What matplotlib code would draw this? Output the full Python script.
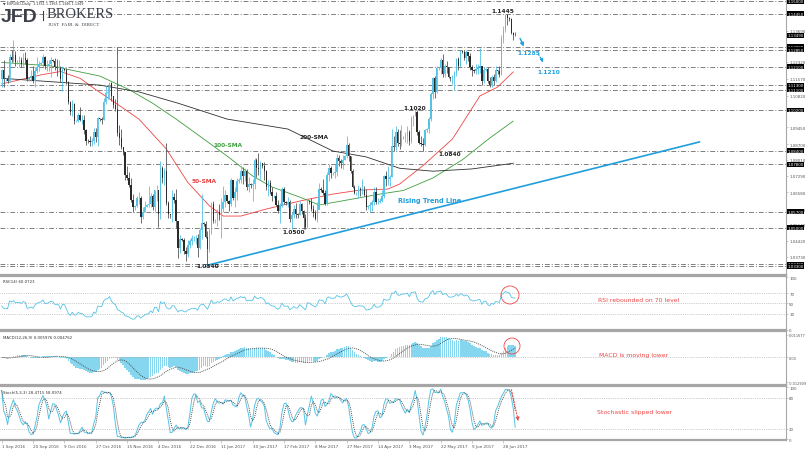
import matplotlib
matplotlib.use('Agg')
import matplotlib.pyplot as plt
from matplotlib.patches import Ellipse
from matplotlib.lines import Line2D
import numpy as np
import pandas as pd

# EURUSD daily bars (Sun-Fri sessions), 1 Sep 2016 .. 5 Jul 2017
first_open = 1.1157
close = [
    # Sep 2016
    1.1195, 1.1155, 1.1158, 1.1150, 1.1255, 1.1240, 1.1262, 1.1232, 1.1235, 1.1240, 1.1225, 1.1250, 1.1240,
    1.1155, 1.1160, 1.1170, 1.1150, 1.1190, 1.1210, 1.1225, 1.1228, 1.1255, 1.1215, 1.1215, 1.1225, 1.1240,
    # Oct
    1.1238, 1.1210, 1.1205, 1.1205, 1.1155, 1.1200, 1.1198, 1.1145, 1.1055, 1.1010, 1.1045, 1.0970, 1.0972,
    1.1000, 1.0975, 1.0975, 1.0930, 1.0885, 1.0882, 1.0880, 1.0885, 1.0925, 1.0900, 1.0985, 1.0980, 1.0975,
    # Nov
    1.1055, 1.1095, 1.1100, 1.1140, 1.1080, 1.1040, 1.1025, 1.0920, 1.0895, 1.0855, 1.0835, 1.0735, 1.0720,
    1.0690, 1.0625, 1.0590, 1.0595, 1.0630, 1.0630, 1.0550, 1.0570, 1.0590, 1.0600, 1.0605, 1.0640, 1.0590,
    # Dec
    1.0665, 1.0665, 1.0560, 1.0765, 1.0720, 1.0750, 1.0610, 1.0560, 1.0555, 1.0635, 1.0625, 1.0530, 1.0410,
    1.0450, 1.0445, 1.0400, 1.0385, 1.0425, 1.0440, 1.0455, 1.0455, 1.0455, 1.0410, 1.0490, 1.0520,
    # Jan 2017
    1.0515, 1.0460, 1.0405, 1.0490, 1.0605, 1.0530, 1.0535, 1.0570, 1.0555, 1.0585, 1.0615, 1.0645, 1.0620,
    1.0605, 1.0710, 1.0630, 1.0660, 1.0705, 1.0710, 1.0750, 1.0730, 1.0750, 1.0680, 1.0695, 1.0690, 1.0695, 1.0800,
    # Feb
    1.0765, 1.0760, 1.0785, 1.0775, 1.0750, 1.0680, 1.0700, 1.0660, 1.0640, 1.0640, 1.0600, 1.0575,
    1.0600, 1.0670, 1.0615, 1.0610, 1.0615, 1.0540, 1.0555, 1.0585, 1.0560, 1.0555, 1.0605, 1.0575,
    # Mar
    1.0545, 1.0505, 1.0620, 1.0615, 1.0585, 1.0565, 1.0540, 1.0580, 1.0670, 1.0665, 1.0655, 1.0605, 1.0735,
    1.0765, 1.0740, 1.0740, 1.0745, 1.0810, 1.0795, 1.0785, 1.0800, 1.0815, 1.0865, 1.0815, 1.0750, 1.0680, 1.0655,
    # Apr
    1.0655, 1.0670, 1.0665, 1.0665, 1.0645, 1.0590, 1.0595, 1.0600, 1.0615, 1.0660, 1.0615, 1.0615, 1.0620,
    1.0640, 1.0730, 1.0715, 1.0715, 1.0725, 1.0860, 1.0855, 1.0925, 1.0875, 1.0870, 1.0895, 1.0900,
    # May
    1.0905, 1.0925, 1.0885, 1.0985, 1.0995, 1.1010, 1.0925, 1.0875, 1.0870, 1.0865, 1.0930, 1.0935, 1.0980,
    1.1090, 1.1160, 1.1100, 1.1205, 1.1205, 1.1240, 1.1180, 1.1215, 1.1210, 1.1165, 1.1160, 1.1165, 1.1185, 1.1245,
    # Jun
    1.1215, 1.1280, 1.1275, 1.1250, 1.1275, 1.1260, 1.1210, 1.1195, 1.1190, 1.1200, 1.1210, 1.1215, 1.1150,
    1.1195, 1.1200, 1.1150, 1.1130, 1.1165, 1.1150, 1.1195, 1.1190, 1.1180, 1.1335, 1.1375, 1.1440, 1.1425,
    # Jul
    1.1420, 1.1360, 1.1350, 1.1349,
]
high = [
    1.1200, 1.1240, 1.1163, 1.1175, 1.1265, 1.1285, 1.1327, 1.1280, 1.1240, 1.1260, 1.1255, 1.1270, 1.1275,
    1.1250, 1.1165, 1.1195, 1.1215, 1.1210, 1.1255, 1.1235, 1.1233, 1.1265, 1.1260, 1.1240, 1.1240, 1.1255,
    1.1245, 1.1250, 1.1245, 1.1240, 1.1215, 1.1215, 1.1205, 1.1205, 1.1150, 1.1060, 1.1065, 1.1050, 1.0978,
    1.1005, 1.1035, 1.1000, 1.1000, 1.0935, 1.0890, 1.0905, 1.0895, 1.0940, 1.0940, 1.0990, 1.0985, 1.0990,
    1.1075, 1.1125, 1.1125, 1.1145, 1.1142, 1.1080, 1.1070, 1.1300, 1.0955, 1.0935, 1.0855, 1.0835, 1.0775,
    1.0745, 1.0720, 1.0650, 1.0600, 1.0640, 1.0660, 1.0640, 1.0590, 1.0620, 1.0605, 1.0685, 1.0655, 1.0650,
    1.0665, 1.0690, 1.0665, 1.0795, 1.0775, 1.0765, 1.0875, 1.0620, 1.0560, 1.0665, 1.0655, 1.0670, 1.0530,
    1.0470, 1.0455, 1.0455, 1.0415, 1.0445, 1.0450, 1.0470, 1.0465, 1.0470, 1.0475, 1.0500, 1.0650,
    1.0525, 1.0530, 1.0485, 1.0500, 1.0615, 1.0620, 1.0540, 1.0585, 1.0605, 1.0630, 1.0685, 1.0665, 1.0645,
    1.0625, 1.0720, 1.0710, 1.0680, 1.0720, 1.0720, 1.0775, 1.0770, 1.0765, 1.0760, 1.0725, 1.0700, 1.0715, 1.0810,
    1.0810, 1.0830, 1.0795, 1.0785, 1.0790, 1.0755, 1.0710, 1.0710, 1.0680, 1.0645, 1.0660, 1.0625,
    1.0610, 1.0680, 1.0680, 1.0620, 1.0635, 1.0625, 1.0570, 1.0600, 1.0610, 1.0565, 1.0620, 1.0610,
    1.0580, 1.0560, 1.0630, 1.0625, 1.0630, 1.0600, 1.0580, 1.0615, 1.0700, 1.0680, 1.0715, 1.0665, 1.0745,
    1.0780, 1.0775, 1.0745, 1.0780, 1.0825, 1.0820, 1.0805, 1.0820, 1.0820, 1.0905, 1.0875, 1.0815, 1.0760, 1.0690,
    1.0660, 1.0690, 1.0680, 1.0715, 1.0685, 1.0670, 1.0600, 1.0615, 1.0625, 1.0680, 1.0680, 1.0630, 1.0630,
    1.0665, 1.0735, 1.0750, 1.0775, 1.0735, 1.0935, 1.0905, 1.0950, 1.0935, 1.0930, 1.0955, 1.0905,
    1.0925, 1.0950, 1.0930, 1.0995, 1.1000, 1.1023, 1.1020, 1.0930, 1.0905, 1.0895, 1.0935, 1.0940, 1.0990,
    1.1100, 1.1165, 1.1170, 1.1215, 1.1210, 1.1250, 1.1268, 1.1225, 1.1235, 1.1210, 1.1165, 1.1175, 1.1190, 1.1250,
    1.1255, 1.1285, 1.1285, 1.1285, 1.1285, 1.1270, 1.1270, 1.1220, 1.1200, 1.1225, 1.1225, 1.1295, 1.1215,
    1.1210, 1.1205, 1.1210, 1.1165, 1.1175, 1.1180, 1.1215, 1.1195, 1.1215, 1.1350, 1.1390, 1.1445, 1.1445,
    1.1430, 1.1425, 1.1365, 1.1365,
]
low = [
    1.1123, 1.1120, 1.1150, 1.1140, 1.1145, 1.1230, 1.1230, 1.1215, 1.1225, 1.1210, 1.1210, 1.1215, 1.1225,
    1.1150, 1.1150, 1.1150, 1.1140, 1.1120, 1.1185, 1.1190, 1.1220, 1.1210, 1.1200, 1.1190, 1.1190, 1.1165,
    1.1230, 1.1195, 1.1170, 1.1190, 1.1145, 1.1105, 1.1190, 1.1135, 1.1045, 1.1000, 1.0995, 1.0960, 1.0965,
    1.0965, 1.0970, 1.0960, 1.0915, 1.0865, 1.0875, 1.0860, 1.0860, 1.0870, 1.0880, 1.0860, 1.0970, 1.0960,
    1.0975, 1.1045, 1.1070, 1.1070, 1.1060, 1.1030, 1.1015, 1.0905, 1.0865, 1.0850, 1.0820, 1.0710, 1.0710,
    1.0680, 1.0615, 1.0570, 1.0580, 1.0590, 1.0605, 1.0520, 1.0540, 1.0570, 1.0590, 1.0590, 1.0590, 1.0580,
    1.0570, 1.0620, 1.0505, 1.0540, 1.0700, 1.0690, 1.0600, 1.0545, 1.0545, 1.0525, 1.0610, 1.0500, 1.0365,
    1.0390, 1.0440, 1.0385, 1.0352, 1.0370, 1.0410, 1.0425, 1.0440, 1.0430, 1.0370, 1.0405, 1.0450,
    1.0510, 1.0455, 1.0340, 1.0395, 1.0475, 1.0520, 1.0520, 1.0510, 1.0535, 1.0455, 1.0570, 1.0590, 1.0610,
    1.0575, 1.0595, 1.0625, 1.0590, 1.0625, 1.0700, 1.0700, 1.0695, 1.0705, 1.0665, 1.0660, 1.0675, 1.0620, 1.0670,
    1.0725, 1.0735, 1.0715, 1.0765, 1.0710, 1.0665, 1.0640, 1.0650, 1.0620, 1.0630, 1.0595, 1.0565,
    1.0520, 1.0590, 1.0605, 1.0600, 1.0590, 1.0525, 1.0494, 1.0545, 1.0545, 1.0545, 1.0555, 1.0560,
    1.0495, 1.0495, 1.0500, 1.0605, 1.0575, 1.0550, 1.0535, 1.0525, 1.0585, 1.0660, 1.0645, 1.0600, 1.0600,
    1.0705, 1.0720, 1.0735, 1.0720, 1.0730, 1.0775, 1.0765, 1.0760, 1.0800, 1.0810, 1.0795, 1.0740, 1.0675, 1.0650,
    1.0645, 1.0630, 1.0640, 1.0650, 1.0640, 1.0580, 1.0585, 1.0570, 1.0575, 1.0600, 1.0605, 1.0605, 1.0610,
    1.0615, 1.0630, 1.0685, 1.0690, 1.0685, 1.0725, 1.0840, 1.0845, 1.0860, 1.0850, 1.0860, 1.0890,
    1.0880, 1.0875, 1.0865, 1.0875, 1.0950, 1.0995, 1.0910, 1.0870, 1.0860, 1.0838, 1.0860, 1.0925, 1.0920,
    1.0970, 1.1070, 1.1075, 1.1095, 1.1195, 1.1180, 1.1165, 1.1165, 1.1185, 1.1160, 1.1150, 1.1135, 1.1110, 1.1170,
    1.1195, 1.1210, 1.1270, 1.1240, 1.1225, 1.1235, 1.1195, 1.1170, 1.1185, 1.1180, 1.1180, 1.1185, 1.1130,
    1.1140, 1.1190, 1.1140, 1.1120, 1.1120, 1.1130, 1.1145, 1.1180, 1.1165, 1.1175, 1.1315, 1.1365, 1.1395,
    1.1415, 1.1355, 1.1330, 1.1346,
]

# moving averages (bar index, price)
sma50_idx = [0, 20, 30, 40, 48, 60, 70, 84, 95, 106, 113, 122, 135, 152, 169, 183, 197, 203, 215, 230, 244, 253, 261]
sma50_val = [1.1135, 1.1175, 1.1190, 1.1160, 1.1110, 1.1040, 1.0980, 1.0848, 1.0700, 1.0597, 1.0552, 1.0552,
             1.0583, 1.0618, 1.0649, 1.0667, 1.0671, 1.0693, 1.0775, 1.0892, 1.1082, 1.1121, 1.1188]
sma100_idx = [0, 25, 50, 65, 77, 89, 101, 115, 128, 138, 152, 162, 179, 193, 205, 220, 235, 249, 261]
sma100_val = [1.1230, 1.1215, 1.1170, 1.1110, 1.1050, 1.0980, 1.0905, 1.0817, 1.0729, 1.0680, 1.0636, 1.0601,
              1.0627, 1.0649, 1.0665, 1.0720, 1.0800, 1.0896, 1.0971]
sma200_idx = [0, 50, 70, 90, 115, 146, 169, 186, 203, 220, 240, 261]
sma200_val = [1.1160, 1.1130, 1.1100, 1.1050, 1.0980, 1.0936, 1.0839, 1.0813, 1.0763, 1.0750, 1.0760, 1.0785]

# rising trend line end points (bar index, price)
trend_idx = [105, 356]
trend_val = [1.0335, 1.0879]

levels = [1.1500, 1.1445, 1.1300, 1.1285, 1.1210, 1.1130, 1.1110, 1.1020, 1.0840, 1.0780, 1.0570, 1.0500,
          1.0340, 1.0330]
price_ticks = [1.0373, 1.0442, 1.0514, 1.0583, 1.0658, 1.0729, 1.0801, 1.0870, 1.0945, 1.1082, 1.1157, 1.1232,
               1.1369]
last_price = 1.1349

date_labels = ['1 Sep 2016', '20 Sep 2016', '9 Oct 2016', '27 Oct 2016', '15 Nov 2016', '4 Dec 2016',
               '22 Dec 2016', '11 Jan 2017', '30 Jan 2017', '17 Feb 2017', '8 Mar 2017', '27 Mar 2017',
               '14 Apr 2017', '3 May 2017', '22 May 2017', '9 Jun 2017', '28 Jun 2017']
date_pos = [16 * k for k in range(len(date_labels))]

# indicators from the bars
c = pd.Series(close)
h = pd.Series(high)
l = pd.Series(low)
o = pd.Series([first_open] + close[:-1])

# RSI(14), Wilder smoothing, seeded with the first 14 changes
d = c.diff().fillna(0).values
gain = np.clip(d, 0, None)
loss = np.clip(-d, 0, None)
ag, al = gain[1:15].mean(), loss[1:15].mean()
rsi = []
for i in range(len(d)):
    if i > 0:
        ag = (ag * 13 + gain[i]) / 14
        al = (al * 13 + loss[i]) / 14
    rsi.append(100 - 100 / (1 + ag / al))

macd = c.ewm(span=12, adjust=False).mean() - c.ewm(span=26, adjust=False).mean()
signal = macd.rolling(9, min_periods=1).mean()

hh = h.rolling(5, min_periods=1).max()
ll = l.rolling(5, min_periods=1).min()
st_k = 100 * (c - ll).rolling(3, min_periods=1).sum() / (hh - ll).rolling(3, min_periods=1).sum()
st_d = st_k.rolling(3, min_periods=1).mean()

# ---------------- figure ----------------
W, H = 806, 452
fig = plt.figure(figsize=(W / 100, H / 100), dpi=100)
fig.patch.set_facecolor('white')

BULL = '#55C3E6'
BEAR = '#2a2a2a'
SEP = '#a6a6a6'
LBL = '#555555'
BLUE = '#1E9FDC'
RED = '#F04545'
XMIN, XMAX = -0.87, 400.2


def panel(top, bottom):
    a = fig.add_axes([0, 1 - bottom / H, 786 / W, (bottom - top) / H])
    a.set_xlim(XMIN, XMAX)
    a.spines['left'].set_visible(False)
    a.spines['right'].set_color(SEP)
    a.spines['right'].set_linewidth(0.8)
    for s in ('top', 'bottom'):
        a.spines[s].set_color(SEP)
        a.spines[s].set_linewidth(1.6)
    a.yaxis.tick_right()
    a.tick_params(axis='y', labelsize=2.9, labelcolor=LBL, length=1.5, width=0.4, color=SEP, pad=0.8)
    a.set_xticks([])
    return a


ax = panel(0, 276)
ax.spines['top'].set_visible(False)
ax.set_ylim(1.02919, 1.15099)

x = np.arange(len(close))
cv, hv, lv, ov = c.values, h.values, l.values, o.values
bull = cv >= ov
ax.vlines(x[bull], lv[bull], hv[bull], color=BULL, lw=0.6, zorder=3)
ax.vlines(x[~bull], lv[~bull], hv[~bull], color='#555555', lw=0.6, zorder=3)
ax.bar(x[bull], (cv - ov)[bull], bottom=ov[bull], width=0.7, color=BULL, lw=0, zorder=4)
ax.bar(x[~bull], (ov - cv)[~bull], bottom=cv[~bull], width=0.7, color=BEAR, lw=0, zorder=4)

ax.hlines(levels, XMIN, XMAX, colors='#808080', linestyles=(0, (5, 2, 1, 2)), lw=0.7, zorder=1)

ax.plot(sma50_idx, sma50_val, color='#EE4444', lw=0.6, zorder=2)
ax.plot(sma100_idx, sma100_val, color='#3E9E3E', lw=0.6, zorder=2)
ax.plot(sma200_idx, sma200_val, color='#303030', lw=0.6, zorder=2)
ax.plot(trend_idx, trend_val, color=BLUE, lw=1.2, zorder=5)

ax.set_yticks(price_ticks)
ax.set_yticklabels(['%.5f' % t for t in price_ticks])
ytr = ax.get_yaxis_transform()
for lv_ in levels + [last_price]:
    ax.text(1.002, lv_, '%.5f' % lv_, transform=ytr, fontsize=2.9, color='white', va='center', ha='left',
            bbox=dict(boxstyle='square,pad=0.12', fc='black', ec='none'), zorder=6, clip_on=False)

# chart annotations
kw = dict(fontsize=4.2, fontweight='bold', va='center', zorder=7)
ax.text(255.8, 1.1457, '1.1445', color='#222222', ha='center', **kw)
ax.text(204.8, 1.1029, '1.1020', color='#222222', **kw)
ax.text(222.6, 1.0826, '1.0840', color='#222222', **kw)
ax.text(143.0, 1.0486, '1.0500', color='#222222', **kw)
ax.text(99.1, 1.0332, '1.0340', color='#222222', **kw)
ax.text(152.2, 1.0905, '200-SMA', color='#222222', **kw)
ax.text(107.8, 1.0866, '100-SMA', color='#3E9E3E', **kw)
ax.text(97.1, 1.0711, '50-SMA', color='#E84040', **kw)
ax.text(202.2, 1.0623, 'Rising Trend Line', color=BLUE, fontsize=4.7, fontweight='bold', va='center', zorder=7)
ax.text(262.9, 1.1272, '1.1285', color=BLUE, **kw)
ax.text(273.1, 1.1188, '1.1210', color=BLUE, **kw)
ax.annotate('', xy=(267.0, 1.1289), xytext=(263.9, 1.1347),
            arrowprops=dict(arrowstyle='-|>', color=BLUE, lw=1.0, mutation_scale=5), zorder=7)
ax.annotate('', xy=(277.2, 1.1219), xytext=(273.1, 1.1276),
            arrowprops=dict(arrowstyle='-|>', color=BLUE, lw=0.9, ls=':', mutation_scale=5), zorder=7)

# ---- RSI ----
ax_rsi = panel(277, 331)
ax_rsi.set_ylim(-0.5, 102.4)
ax_rsi.hlines([70, 50, 30], XMIN, XMAX, colors='#a0a0a0', linestyles=':', lw=0.5)
ax_rsi.plot(x, rsi, color=BULL, lw=0.6)
ax_rsi.set_yticks([100, 70, 50, 30, 0])
ax_rsi.text(0.004, 0.9, 'RSI(14) 60.0723', transform=ax_rsi.transAxes, fontsize=2.8, color='#333333', va='center')

# ---- MACD ----
ax_macd = panel(332, 386)
ax_macd.set_ylim(-0.01431, 0.01359)
ax_macd.hlines([0], XMIN, XMAX, colors='#a0a0a0', linestyles=':', lw=0.5)
ax_macd.bar(x, macd, width=0.8, color='#86D6F0', lw=0)
ax_macd.plot(x, signal, color='#404040', lw=0.6, ls=(0, (1.2, 1.2)))
ax_macd.set_yticks([0.011677, 0, -0.012909])
ax_macd.set_yticklabels(['0.011677', '0.00', '-0.012909'], fontsize=2.5)
ax_macd.text(0.004, 0.88, 'MACD(12,26,9) 0.005976 0.004762', transform=ax_macd.transAxes, fontsize=2.8,
             color='#333333', va='center')

# ---- Stochastic ----
ax_st = panel(387, 441)
ax_st.set_ylim(-1, 102)
ax_st.hlines([80, 20], XMIN, XMAX, colors='#a0a0a0', linestyles=':', lw=0.5)
ax_st.plot(x, st_k, color=BULL, lw=0.7)
ax_st.plot(x, st_d, color='#404040', lw=0.6, ls=(0, (1.2, 1.2)))
ax_st.set_yticks([100, 80, 20, 0])
ax_st.text(0.004, 0.88, 'Stoch(5,3,3) 28.4715 58.0974', transform=ax_st.transAxes, fontsize=2.8,
           color='#333333', va='center')
ax_st.set_xticks(date_pos)
ax_st.set_xticklabels(date_labels, fontsize=3.0, color=LBL, ha='left')
ax_st.tick_params(axis='x', length=2, width=0.4, color=SEP, pad=1)
ax_st.annotate('', xy=(263.9, 29.5), xytext=(259.8, 100),
               arrowprops=dict(arrowstyle='-|>', color=RED, lw=0.8, ls=':', mutation_scale=5))

# red comments
fig.text(598 / W, 1 - 300 / H, 'RSI rebounded on 70 level', fontsize=4.4, color=RED, va='center')
fig.text(599 / W, 1 - 356 / H, 'MACD is moving lower', fontsize=4.4, color=RED, va='center')
fig.text(597 / W, 1 - 412.5 / H, 'Stochastic slipped lower', fontsize=4.4, color=RED, va='center')
for cx, cy, r in [(510, 296, 9), (512, 347, 8)]:
    fig.add_artist(Ellipse((cx / W, 1 - cy / H), 2 * r / W, 2 * r / H, transform=fig.transFigure,
                           fill=False, ec=RED, lw=0.6))

# header and logo
fig.text(3 / W, 1 - 4.5 / H, '\u25bc EURUSD,Daily  1.1351 1.1365 1.1346 1.1349', fontsize=2.4, color='#333333',
         va='center')
fig.text(1 / W, 1 - 17.5 / H, 'JFD', family='Liberation Sans', fontweight='bold', fontsize=14, color='#3C4048',
         va='center')
fig.add_artist(Line2D([43 / W, 43 / W], [1 - 12 / H, 1 - 21 / H], color='#3C4048', lw=0.8))
fig.text(47 / W, 1 - 14.5 / H, 'BROKERS', family='Liberation Serif', fontsize=10.5, color='#3C4048', va='center')
fig.text(47.5 / W, 1 - 24.5 / H, 'JUST  FAIR  &  DIRECT', family='Liberation Serif', fontsize=3.6,
         color='#3C4048', va='center')

fig.savefig('out.png', dpi=100, facecolor='white')
